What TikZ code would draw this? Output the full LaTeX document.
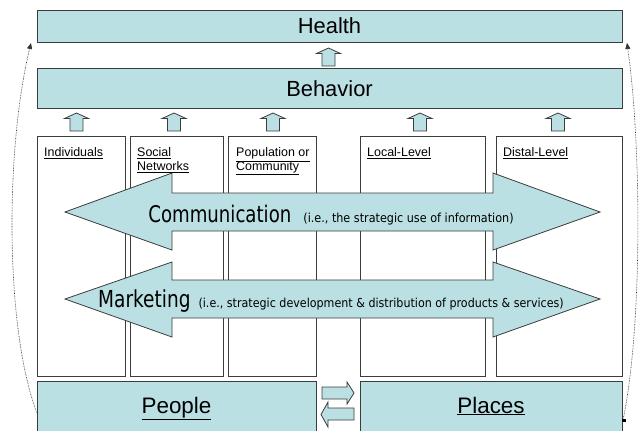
\documentclass[tikz,border=0pt]{standalone}
\usepackage{fontspec}
\setmainfont{Liberation Sans}
\newfontfamily\tah{DejaVu Sans Condensed}
\newfontfamily\tahn{DejaVu Sans Condensed}[FakeStretch=0.88]
\usetikzlibrary{arrows.meta}
\definecolor{tealfill}{HTML}{BBE0E3}
\definecolor{edge}{HTML}{3C3C3C}
\begin{document}
\begin{tikzpicture}[x=1bp,y=-1bp,
  box/.style={draw=edge,line width=0.9bp,fill=tealfill,inner sep=0,outer sep=0,font=\fontsize{22}{24}\selectfont},
  colbox/.style={draw=edge,line width=0.9bp,fill=white,inner sep=0,outer sep=0},
  blockarrow/.style={draw=edge,line width=0.8bp,fill=tealfill,line join=miter},
  lab/.style={font=\fontsize{12.5}{14}\selectfont,anchor=north west,align=left,inner sep=0},
  conn/.style={draw=black!80,line width=0.6bp,dash pattern=on 0.7bp off 0.9bp,-{Triangle[length=6bp,width=5bp]}},
  uparrow/.pic={\draw[blockarrow] (0,0) -- (12,5.5) -- (6.5,5.5) -- (6.5,18) -- (-6.5,18) -- (-6.5,5.5) -- (-12,5.5) -- cycle;}
]
\useasboundingbox (0,0) rectangle (641,430);
\clip (0,0) rectangle (641,430);
% top boxes
\node[box,minimum width=585bp,minimum height=32bp] (health) at (329.5,26) {Health};
\node[box,minimum width=585bp,minimum height=40bp] (behavior) at (329.5,88.5) {Behavior};
\pic at (328.5,48) {uparrow};
% columns
\node[colbox,minimum width=88bp,minimum height=240bp] (ind) at (81,256) {};
\node[colbox,minimum width=93bp,minimum height=240bp] (soc) at (176.5,256) {};
\node[colbox,minimum width=88bp,minimum height=240bp] (pop) at (272,256) {};
\node[colbox,minimum width=125bp,minimum height=240bp] (loc) at (422.5,256) {};
\node[colbox,minimum width=126bp,minimum height=240bp] (dis) at (559,256) {};
\node[lab] (indl) at ([xshift=7bp,yshift=-11.5bp]ind.north west) {\underline{Individuals}};
\node[lab] (socl) at ([xshift=7bp,yshift=-11.5bp]soc.north west) {\underline{Social}\\\underline{Networks}};
\node[lab] (popl) at ([xshift=8bp,yshift=-11.5bp]pop.north west) {\underline{Population or}\\\underline{Community}};
\node[lab] (locl) at ([xshift=7bp,yshift=-11.5bp]loc.north west) {\underline{Local-Level}};
\node[lab] (disl) at ([xshift=7bp,yshift=-11.5bp]dis.north west) {\underline{Distal-Level}};
\foreach \cx in {76.5,174,273,420,558} {\pic at (\cx,113) {uparrow};}
% big double arrows
\draw[blockarrow] (65,212) -- (172,173) -- (172,193) -- (493,193) -- (493,173) -- (600,212) -- (493,250) -- (493,231) -- (172,231) -- (172,250) -- cycle;
\draw[blockarrow] (65,299) -- (172,262) -- (172,280) -- (493,280) -- (493,262) -- (600,299) -- (493,337) -- (493,318) -- (172,318) -- (172,337) -- cycle;
\node[anchor=base,inner sep=0] (comm) at (331,222) {\tahn\fontsize{23}{24}\selectfont Communication\hspace{12bp}\tah\fontsize{12.5}{14}\selectfont (i.e., the strategic use of information)};
\node[anchor=base,inner sep=0] (mark) at (331,307) {\tahn\fontsize{23.5}{24}\selectfont Marketing\hspace{8bp}\tah\fontsize{12.4}{14}\selectfont (i.e., strategic development \& distribution of products \& services)};
% bottom boxes
\node[box,minimum width=279bp,minimum height=60bp,anchor=north west] (people) at (37,381) {};
\node[box,minimum width=262bp,minimum height=60bp,anchor=north west] (places) at (360,381) {};
\node[anchor=base,inner sep=0,font=\fontsize{22.5}{24}\selectfont] (peoplel) at (176.5,413) {\underline{People}};
\node[anchor=base,inner sep=0,font=\fontsize{22.5}{24}\selectfont] (placesl) at (491,413) {\underline{Places}};
% exchange arrows
\draw[blockarrow] (322,387) -- (347,387) -- (347,382) -- (354,393) -- (347,404) -- (347,399) -- (322,399) -- cycle;
\draw[blockarrow] (354,408) -- (328,408) -- (328,402) -- (321,414.5) -- (328,427) -- (328,420) -- (354,420) -- cycle;
% dotted feedback curves
\coordinate (ls) at (37,413);
\coordinate (lt) at ([xshift=-6bp,yshift=-1bp]health.south west);
\coordinate (rs) at (623,420);
\coordinate (rt) at ([xshift=5bp,yshift=-1bp]health.south east);
\draw[conn] (ls) .. controls (5,330) and (5,150) .. (lt);
\draw[conn] (rs) .. controls (642,330) and (642,150) .. (rt);
\fill[black] (622,418.5) rectangle (625.5,421.5);
\end{tikzpicture}
\end{document}
